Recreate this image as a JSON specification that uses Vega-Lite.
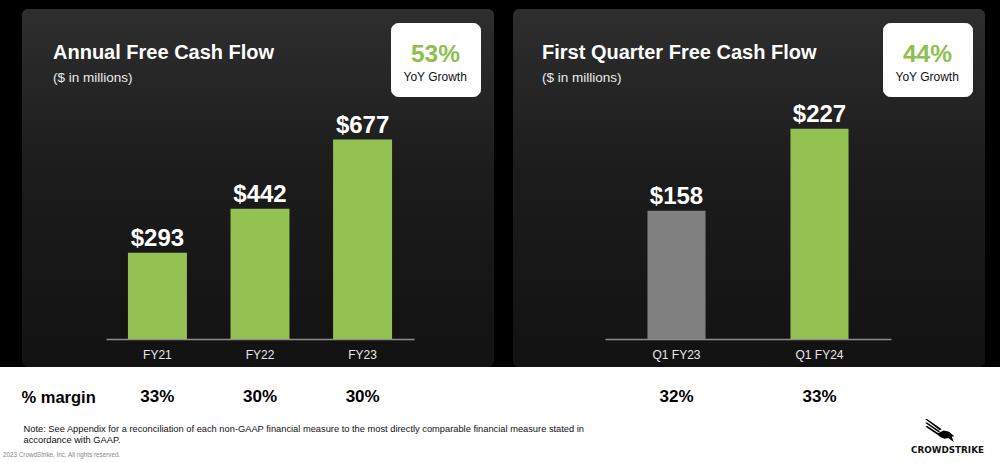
{
  "$schema": "https://vega.github.io/schema/vega-lite/v6.json",
  "background": "#000000",
  "padding": {"top": 9, "left": 0, "right": 0, "bottom": 0},
  "spacing": 0,
  "config": {"font": "Liberation Sans", "view": {"stroke": null}},
  "datasets": {
    "annual": [
      {"period": "FY21", "fcf": 293, "margin": 0.33},
      {"period": "FY22", "fcf": 442, "margin": 0.30},
      {"period": "FY23", "fcf": 677, "margin": 0.30}
    ],
    "quarter": [
      {"period": "Q1 FY23", "fcf": 158, "margin": 0.32},
      {"period": "Q1 FY24", "fcf": 227, "margin": 0.33}
    ]
  },
  "vconcat": [
    {
      "bounds": "flush",
      "spacing": 19,
      "hconcat": [
        {"width": 3, "height": 358, "data": {"values": []}, "mark": {"type": "rect"}, "encoding": {}},
        {
          "width": 472, "height": 358,
          "data": {"name": "annual"},
          "view": {"fill": {"gradient": "linear", "x1": 0, "y1": 0, "x2": 0, "y2": 1, "stops": [{"offset": 0, "color": "#2e2e2e"}, {"offset": 0.45, "color": "#1c1c1c"}, {"offset": 1, "color": "#121212"}]}, "cornerRadius": 6, "stroke": null},
          "title": {"text": "Annual Free Cash Flow", "subtitle": "($ in millions)", "anchor": "start", "frame": "group", "orient": "top", "offset": 0, "dx": 31, "dy": 75, "color": "#ffffff", "fontSize": 20, "fontWeight": "bold", "font": "Liberation Sans", "subtitleColor": "#ececec", "subtitleFontSize": 13.5, "subtitleFont": "Liberation Sans", "subtitlePadding": 8},
          "encoding": {
            "x": {"field": "period", "type": "nominal", "sort": null,
                  "scale": {"range": [84, 392], "paddingInner": 0.425, "paddingOuter": 0.214},
                  "axis": {"orient": "bottom", "offset": -28, "title": null, "grid": false, "ticks": false, "tickSize": 0, "domainColor": "#8c8c8c", "domainWidth": 1.5, "labelColor": "#e8e8e8", "labelFontSize": 12, "labelFont": "Liberation Sans", "labelPadding": 10, "labelAngle": 0}},
            "y": {"field": "fcf", "type": "quantitative", "scale": {"domain": [0, 1000], "range": [330, 35.4]}, "axis": null}
          },
          "layer": [
            {"mark": {"type": "bar", "color": "#93c253"}},
            {"mark": {"type": "text", "dy": -7, "baseline": "alphabetic", "fontSize": 24, "fontWeight": "bold", "font": "Liberation Sans"},
             "encoding": {
               "text": {"field": "fcf", "format": "$.0f"},
               "color": {"datum": "YoY Growth", "type": "nominal", "scale": {"range": ["#ffffff"]},
                 "legend": {"orient": "none", "legendX": 369, "legendY": 14, "title": ["", "53%"], "titleColor": "#8dc04f", "titleFontSize": 24.5, "titleFontWeight": "bold", "titleFont": "Liberation Sans", "titleAnchor": "middle", "titleLineHeight": 7, "titlePadding": 4, "labelFontSize": 12, "labelColor": "#111111", "labelFont": "Liberation Sans", "labelOffset": -12, "symbolType": "circle", "symbolSize": 1, "symbolOpacity": 0, "symbolStrokeWidth": 0, "fillColor": "#ffffff", "strokeColor": "#ffffff", "cornerRadius": 7, "padding": 12.5}}
             }}
          ],
          "resolve": {"scale": {"color": "independent"}, "legend": {"color": "independent"}}
        },
        {
          "width": 472, "height": 358,
          "data": {"name": "quarter"},
          "view": {"fill": {"gradient": "linear", "x1": 0, "y1": 0, "x2": 0, "y2": 1, "stops": [{"offset": 0, "color": "#2e2e2e"}, {"offset": 0.45, "color": "#1c1c1c"}, {"offset": 1, "color": "#121212"}]}, "cornerRadius": 6, "stroke": null},
          "title": {"text": "First Quarter Free Cash Flow", "subtitle": "($ in millions)", "anchor": "start", "frame": "group", "orient": "top", "offset": 0, "dx": 29, "dy": 75, "color": "#ffffff", "fontSize": 20, "fontWeight": "bold", "font": "Liberation Sans", "subtitleColor": "#ececec", "subtitleFontSize": 13.5, "subtitleFont": "Liberation Sans", "subtitlePadding": 8},
          "encoding": {
            "x": {"field": "period", "type": "nominal", "sort": null,
                  "scale": {"range": [92, 378], "paddingInner": 0.594, "paddingOuter": 0.297},
                  "axis": {"orient": "bottom", "offset": -28, "title": null, "grid": false, "ticks": false, "tickSize": 0, "domainColor": "#8c8c8c", "domainWidth": 1.5, "labelColor": "#e8e8e8", "labelFontSize": 12, "labelFont": "Liberation Sans", "labelPadding": 10, "labelAngle": 0}},
            "y": {"field": "fcf", "type": "quantitative", "scale": {"domain": [50, 300], "range": [330, 33], "zero": false}, "axis": null}
          },
          "layer": [
            {"mark": {"type": "bar"},
             "encoding": {
               "y2": {"datum": 50},
               "color": {"field": "period", "type": "nominal", "scale": {"domain": ["Q1 FY23", "Q1 FY24"], "range": ["#808080", "#93c253"]}, "legend": null}
             }},
            {"mark": {"type": "text", "dy": -7, "baseline": "alphabetic", "fontSize": 24, "fontWeight": "bold", "font": "Liberation Sans"},
             "encoding": {
               "text": {"field": "fcf", "format": "$.0f"},
               "color": {"datum": "YoY Growth", "type": "nominal", "scale": {"range": ["#ffffff"]},
                 "legend": {"orient": "none", "legendX": 370, "legendY": 14, "title": ["", "44%"], "titleColor": "#8dc04f", "titleFontSize": 24.5, "titleFontWeight": "bold", "titleFont": "Liberation Sans", "titleAnchor": "middle", "titleLineHeight": 7, "titlePadding": 4, "labelFontSize": 12, "labelColor": "#111111", "labelFont": "Liberation Sans", "labelOffset": -12, "symbolType": "circle", "symbolSize": 1, "symbolOpacity": 0, "symbolStrokeWidth": 0, "fillColor": "#ffffff", "strokeColor": "#ffffff", "cornerRadius": 7, "padding": 12.5}}
             }}
          ],
          "resolve": {"scale": {"color": "independent"}, "legend": {"color": "independent"}}
        }
      ]
    },
    {
      "width": 1000, "height": 96,
      "view": {"fill": "#ffffff", "stroke": null},
      "title": {"text": "2023 CrowdStrike, Inc. All rights reserved.", "orient": "bottom", "anchor": "start", "frame": "group", "offset": -11, "dx": 3, "fontSize": 6.3, "fontWeight": "normal", "color": "#8a8a8a", "font": "Liberation Sans"},
      "layer": [
        {
          "data": {"name": "annual"},
          "mark": {"type": "text", "fontSize": 17, "fontWeight": "bold", "font": "Liberation Sans", "color": "#000000"},
          "encoding": {
            "x": {"field": "period", "type": "nominal", "sort": null,
                  "scale": {"range": [106, 414], "paddingInner": 0.425, "paddingOuter": 0.214},
                  "axis": {"orient": "bottom", "labels": false, "ticks": false, "domain": false, "grid": false,
                           "title": ["Note: See Appendix for a reconciliation of each non-GAAP financial measure to the most directly comparable financial measure stated in", "accordance with GAAP."],
                           "titleX": 23, "titleY": -32, "titleAlign": "left", "titleAnchor": "start", "titleBaseline": "alphabetic", "titleFontSize": 9.3, "titleFontWeight": "normal", "titleColor": "#111111", "titleLineHeight": 11.7, "titleFont": "Liberation Sans", "titleLimit": 0}},
            "y": {"datum": "% margin", "type": "nominal", "scale": {"range": [0, 60], "paddingInner": 0, "paddingOuter": 0},
                  "axis": {"orient": "left", "title": null, "domain": false, "ticks": false, "tickSize": 0, "grid": false, "labelPadding": -21, "labelAlign": "left", "labelFontSize": 16.5, "labelFontWeight": "bold", "labelColor": "#000000", "labelFont": "Liberation Sans"}},
            "text": {"field": "margin", "format": ".0%"}
          }
        },
        {
          "data": {"name": "quarter"},
          "mark": {"type": "text", "fontSize": 17, "fontWeight": "bold", "font": "Liberation Sans"},
          "encoding": {
            "x": {"field": "period", "type": "nominal", "sort": null,
                  "scale": {"range": [605, 891], "paddingInner": 0.594, "paddingOuter": 0.297},
                  "axis": {"orient": "bottom", "labels": false, "ticks": false, "domain": false, "grid": false,
                           "title": "CROWDSTRIKE", "titleX": 947, "titleY": -11, "titleAlign": "center", "titleBaseline": "alphabetic", "titleFont": "DejaVu Sans", "titleFontSize": 8.8, "titleFontWeight": "bold", "titleColor": "#111111"}},
            "y": {"datum": "% margin", "type": "nominal"},
            "text": {"field": "margin", "format": ".0%"},
            "color": {"datum": "CrowdStrike", "type": "nominal", "scale": {"range": ["#000000"]},
              "legend": {"orient": "none", "legendX": 925, "legendY": 406.5, "title": null, "labelExpr": "''", "labelOffset": 0, "padding": 0, "symbolSize": 900, "symbolStrokeWidth": 0, "symbolFillColor": "#000000", "symbolOpacity": 1,
                "symbolType": "M -1,-0.77 L -0.86,-0.77 L 0.12,-0.08 L -0.02,-0.02 Z M -1,-0.52 L -0.86,-0.54 L 0.02,0.06 L -0.12,0.1 Z M -0.98,-0.26 L -0.84,-0.3 L -0.08,0.2 L -0.22,0.25 Z M -0.25,0.22 L 0.25,0.0 L 0.6,0.08 L 0.95,0.38 L 0.78,0.42 L 0.92,0.77 L 0.55,0.5 L 0.3,0.55 L 0.05,0.45 Z"}}
          }
        }
      ],
      "resolve": {"scale": {"x": "independent"}, "axis": {"x": "independent"}}
    }
  ]
}
